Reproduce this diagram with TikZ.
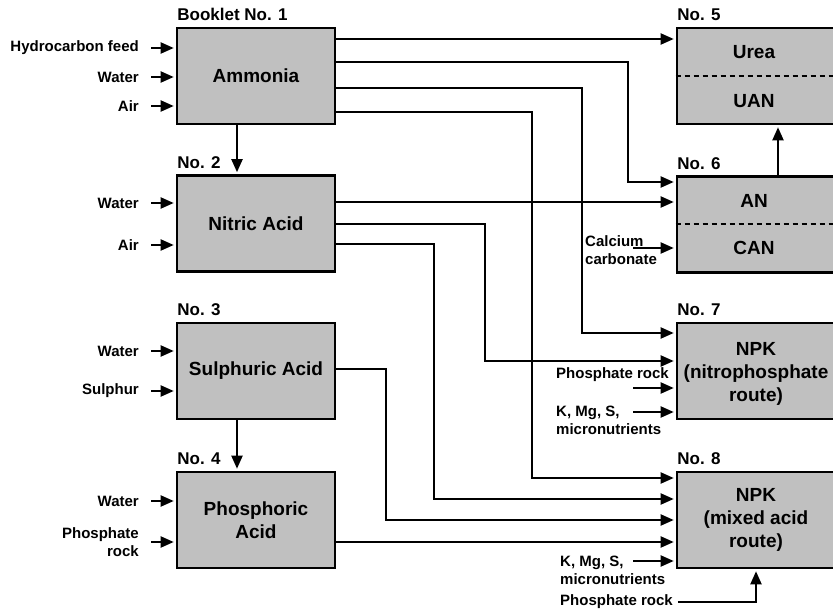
\documentclass[tikz,border=0pt]{standalone}
\usepackage{fontspec}
\setmainfont{Liberation Sans}
\usetikzlibrary{arrows, arrows.meta}
\usetikzlibrary{positioning, calc}
\definecolor{boxgray}{HTML}{C0C0C0}

\begin{document}
\begin{tikzpicture}[x=1pt, y=-1pt,
    box/.style={draw=black, fill=boxgray, line width=2.6pt, minimum width=158pt, minimum height=96pt,
      inner sep=0pt, align=center, font=\fontsize{19}{23}\selectfont\bfseries},
    boxtxt/.style={inner sep=0pt, font=\fontsize{19}{23}\selectfont\bfseries},
    head/.style={anchor=base west, inner sep=0pt, font=\fontsize{17}{20}\selectfont\bfseries},
    inlbl/.style={inner sep=0pt, align=right, font=\fontsize{15}{18}\selectfont\bfseries},
    flow/.style={-{Triangle[length=13pt, width=11pt]}, line width=2pt, shorten >=2pt},
    divider/.style={line width=2pt, dash pattern=on 5pt off 4pt}]
      \useasboundingbox (0,0) rectangle (833,612);
      \clip (0,0) rectangle (833,612);

      \node[box] (amm) at (256,76) {Ammonia};
      \node[box] (nit) at (256,223.5) {Nitric Acid};
      \node[box] (sul) at (256,371) {Sulphuric Acid};
      \node[box] (pho) at (256,520) {Phosphoric\\Acid};

      \node[box] (urea) at (756,76) {};
      \node[box] (an) at (756,224.5) {};
      \node[box] (npk7) at (756,371) {};
      \node[box] (npk8) at (756,520) {NPK\\(mixed acid\\route)};

      \node[boxtxt] (ureatxt) at (754,52) {Urea};
      \node[boxtxt] (uantxt) at (754,101) {UAN};
      \draw[divider] (urea.west |- 0,76) -- (urea.east |- 0,76);
      \node[boxtxt] (antxt) at (754,201) {AN};
      \node[boxtxt] (cantxt) at (754,248) {CAN};
      \draw[divider] (an.west |- 0,224) -- (an.east |- 0,224);
      \node[boxtxt, align=center] (npk7txt) at (756,374) {NPK\\(nitrophosphate\\route)};

      \node[head] (h1) at ([xshift=1.5pt, yshift=6pt]amm.north west) {Booklet No. 1};
      \node[head] (h2) at ([xshift=1.5pt, yshift=6pt]nit.north west) {No. 2};
      \node[head] (h3) at ([xshift=1.5pt, yshift=6pt]sul.north west) {No. 3};
      \node[head] (h4) at ([xshift=1.5pt, yshift=6pt]pho.north west) {No. 4};
      \node[head] (h5) at ([xshift=1.5pt, yshift=6pt]urea.north west) {No. 5};
      \node[head] (h6) at ([xshift=1.5pt, yshift=6pt]an.north west) {No. 6};
      \node[head] (h7) at ([xshift=1.5pt, yshift=6pt]npk7.north west) {No. 7};
      \node[head] (h8) at ([xshift=1.5pt, yshift=6pt]npk8.north west) {No. 8};

      \node[inlbl, anchor=east] (hcf) at (139,48) {Hydrocarbon feed};
      \node[inlbl, anchor=east] (wat1) at (139,77) {Water};
      \node[inlbl, anchor=east] (air1) at (139,106) {Air};
      \node[inlbl, anchor=east] (wat2) at (139,203) {Water};
      \node[inlbl, anchor=east] (air2) at (139,245) {Air};
      \node[inlbl, anchor=east] (wat3) at (139,351) {Water};
      \node[inlbl, anchor=east] (sulph) at (139,391) {Sulphur};
      \node[inlbl, anchor=east] (wat4) at (139,501) {Water};
      \node[inlbl, anchor=east] (rock4) at (139,542) {Phosphate\\rock};
      \foreach \n in {hcf, wat1, air1}
        \draw[flow] ([xshift=12pt]\n.east) -- (amm.west |- \n);
      \foreach \n in {wat2, air2}
        \draw[flow] ([xshift=12pt]\n.east) -- (nit.west |- \n);
      \foreach \n in {wat3, sulph}
        \draw[flow] ([xshift=12pt]\n.east) -- (sul.west |- \n);
      \foreach \n in {wat4, rock4}
        \draw[flow] ([xshift=12pt]\n.east) -- (pho.west |- \n);

      \draw[flow] ([xshift=-19pt]amm.south) -- ([xshift=-19pt]nit.north);
      \draw[flow] ([xshift=-19pt]sul.south) -- ([xshift=-19pt]pho.north);
      \draw[flow] ([xshift=22pt]an.north) -- ([xshift=22pt]urea.south);

      \draw[flow] (amm.east |- 0,39) -- (urea.west |- 0,39);
      \draw[flow] (amm.east |- 0,62) -| (628,182) -- (an.west |- 0,182);
      \draw[flow] (amm.east |- 0,88) -| (582,333) -- (npk7.west |- 0,333);
      \draw[flow] (amm.east |- 0,112) -| (532,478) -- (npk8.west |- 0,478);
      \draw[flow] (nit.east |- 0,202) -- (an.west |- 0,202);
      \draw[flow] (nit.east |- 0,224) -| (485,361) -- (npk7.west |- 0,361);
      \draw[flow] (nit.east |- 0,244) -| (434,499) -- (npk8.west |- 0,499);
      \draw[flow] (sul.east |- 0,369) -| (386,520) -- (npk8.west |- 0,520);
      \draw[flow] (pho.east |- 0,542) -- (npk8.west |- 0,542);

      \node[inlbl, anchor=west, align=left] (caco) at (585,250) {Calcium\\carbonate};
      \coordinate (cacoin) at (633,248);
      \draw[flow] (cacoin) -- (an.west |- cacoin);

      \node[inlbl, anchor=west] (rock7) at (556,375) {Phosphate rock};
      \coordinate (rock7in) at (633,388);
      \draw[flow] (rock7in) -- (npk7.west |- rock7in);
      \node[inlbl, anchor=west, align=left] (kmg7) at (556,420) {K, Mg, S,\\micronutrients};
      \coordinate (kmg7in) at (633,412);
      \draw[flow] (kmg7in) -- (npk7.west |- kmg7in);

      \node[inlbl, anchor=west, align=left] (kmg8) at (560,570) {K, Mg, S,\\micronutrients};
      \coordinate (kmg8in) at (633,561);
      \draw[flow] (kmg8in) -- (npk8.west |- kmg8in);
      \node[inlbl, anchor=west] (rock8) at (560,602) {Phosphate rock};
      \draw[flow] ([xshift=5pt]rock8.east) -| (npk8.south);
\end{tikzpicture}
\end{document}
